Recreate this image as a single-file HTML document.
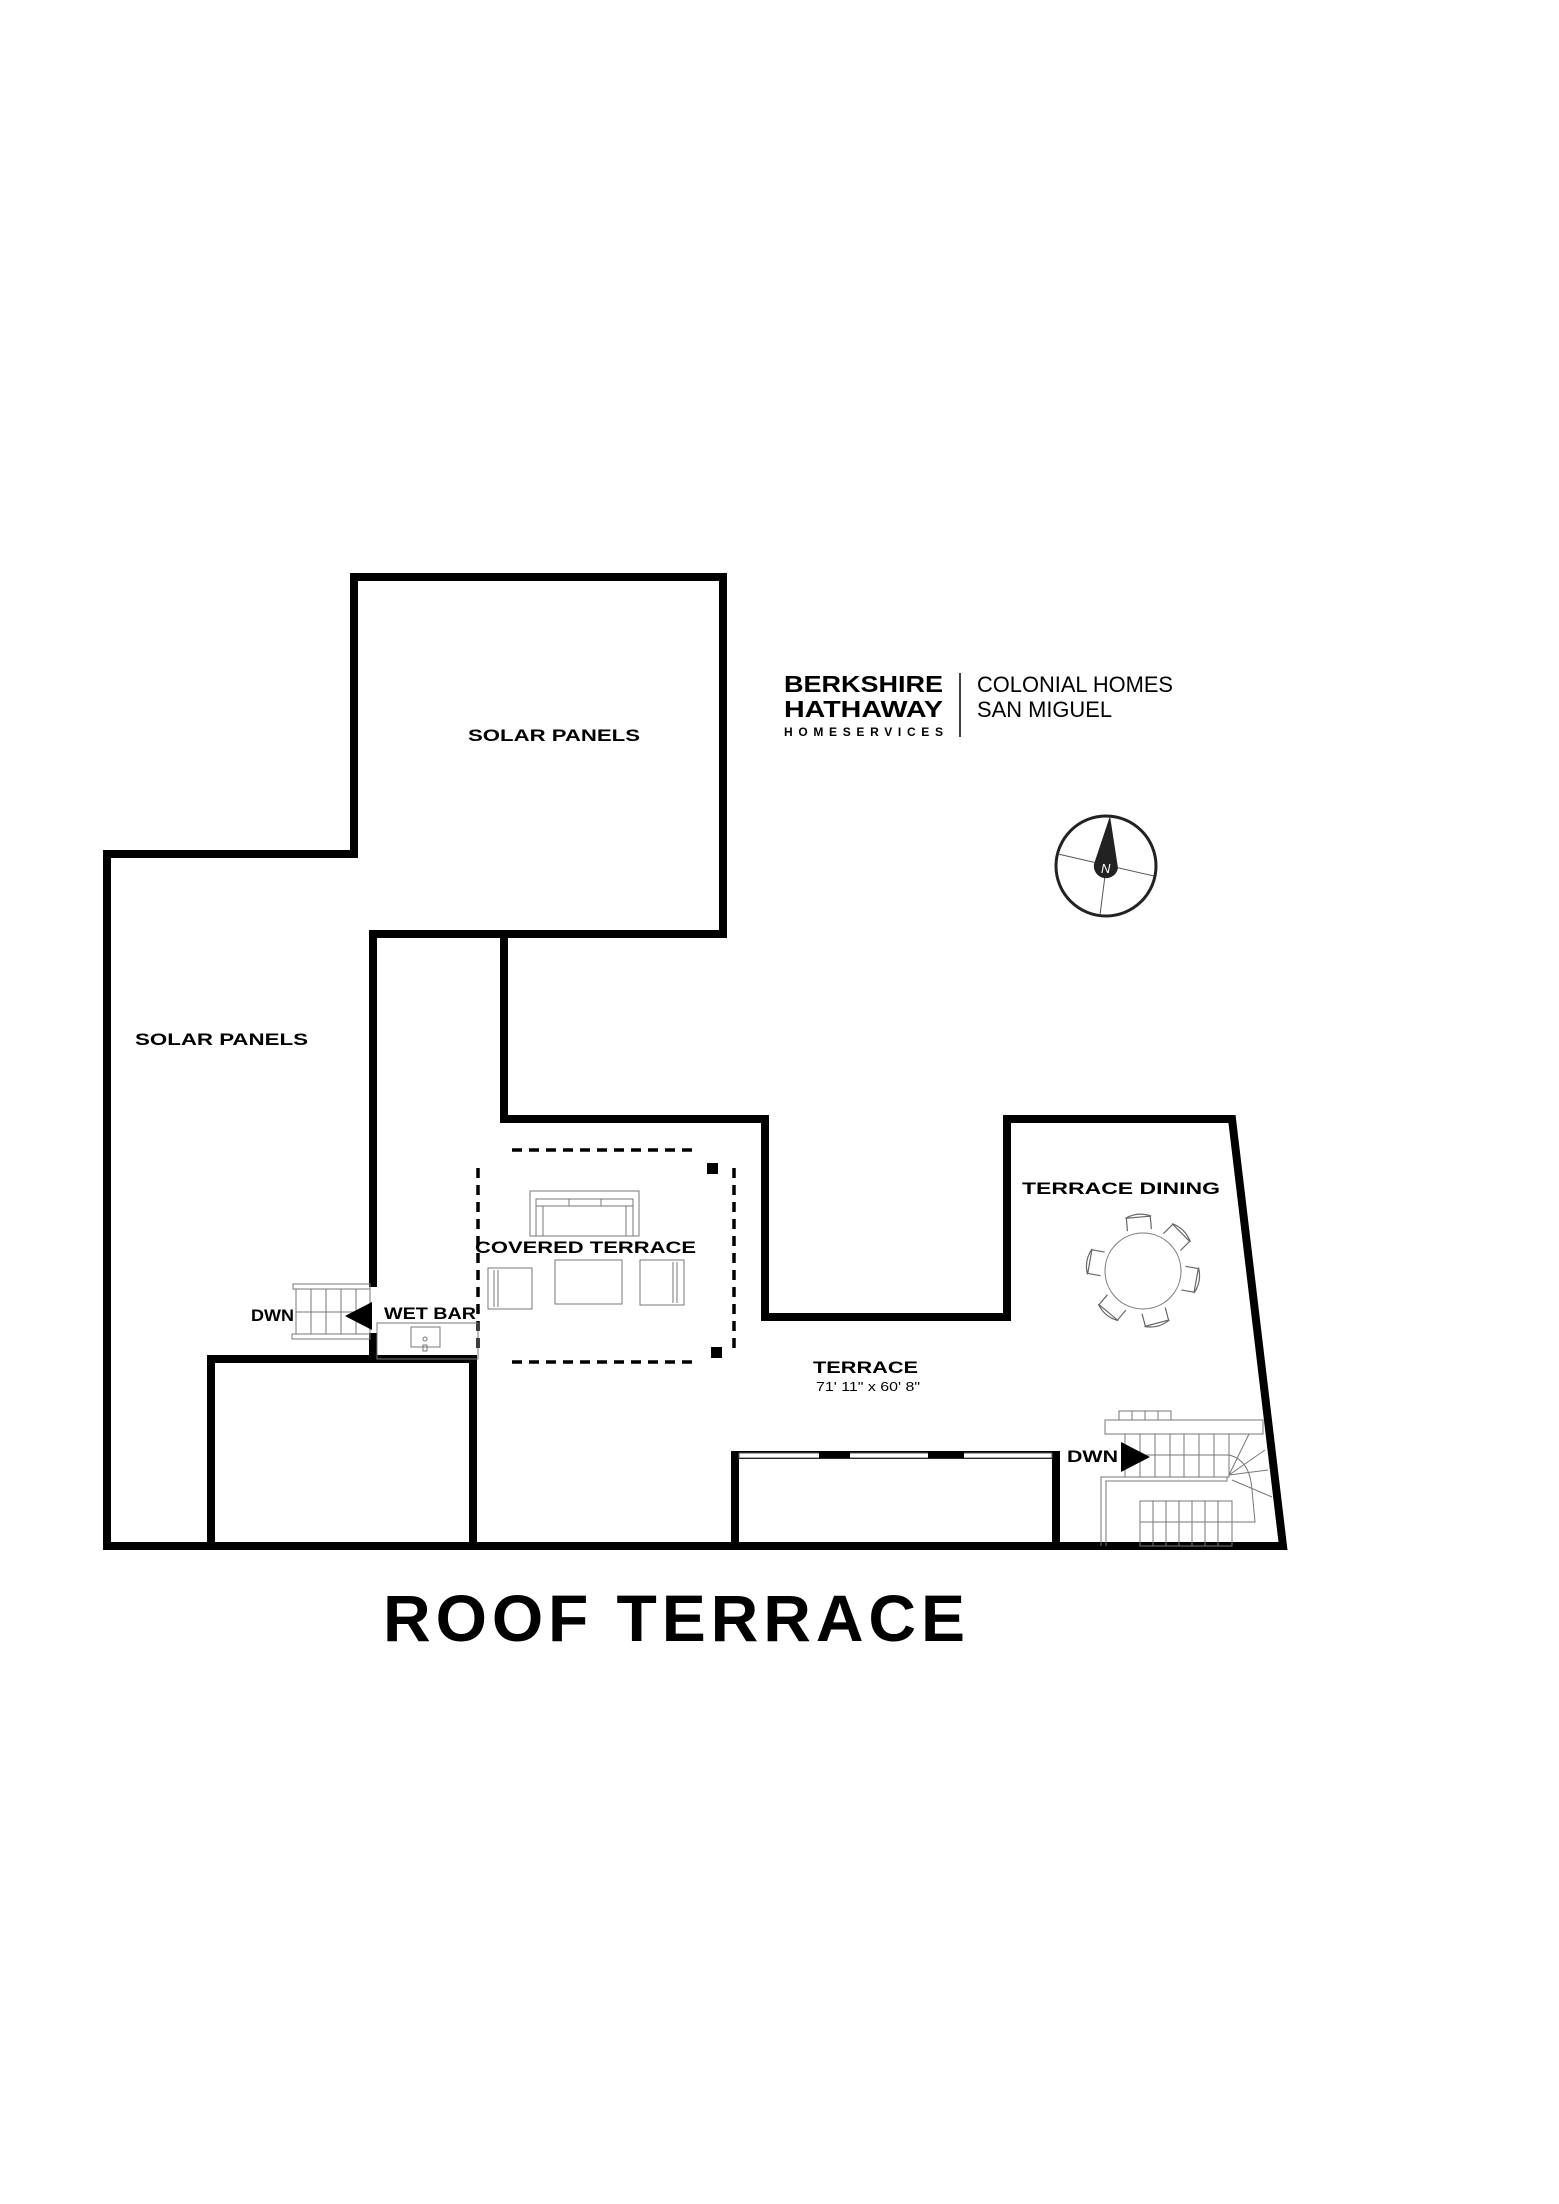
<!DOCTYPE html>
<html><head><meta charset="utf-8"><style>
html,body{margin:0;padding:0;background:#fff}
svg{display:block}
text{font-family:"Liberation Sans",Arial,sans-serif}
</style></head><body>
<svg width="1559" height="2204" viewBox="0 0 1559 2204" xmlns="http://www.w3.org/2000/svg">
<rect width="1559" height="2204" fill="#fff"/>
<g fill="none" stroke="#000" stroke-width="8" stroke-linejoin="miter">
  <path d="M107,1546 L107,854 L354,854 L354,577 L723,577 L723,934 L504,934 L504,1119 L765,1119 L765,1317 L1007,1317 L1007,1119 L1232,1119 L1283,1546 Z"/>
  <path d="M504,934 L373,934 L373,1287"/>
  <path d="M373,1333 L373,1359"/>
  <path d="M211,1546 L211,1359 L473,1359 L473,1546"/>
  <path d="M735,1546 L735,1455 L1056,1455 L1056,1546"/>
</g>
<rect x="739" y="1453" width="313" height="5" fill="#fff" stroke="#555" stroke-width="1"/>
<rect x="819" y="1452" width="31" height="6" fill="#000"/>
<rect x="928" y="1452" width="36" height="6" fill="#000"/>
<g stroke="#000" stroke-width="3.5" stroke-dasharray="10,7" fill="none">
  <line x1="512" y1="1150" x2="697" y2="1150"/>
  <line x1="512" y1="1362" x2="697" y2="1362"/>
  <line x1="478" y1="1168" x2="478" y2="1352"/>
  <line x1="734" y1="1168" x2="734" y2="1352"/>
</g>
<rect x="707" y="1163" width="11" height="11" fill="#000"/>
<rect x="711" y="1347" width="11" height="11" fill="#000"/>
<g fill="none" stroke="#777" stroke-width="1">
  <rect x="530" y="1191" width="109" height="45"/>
  <rect x="536" y="1199" width="97" height="37"/>
  <line x1="536" y1="1206" x2="633" y2="1206"/>
  <line x1="569" y1="1199" x2="569" y2="1206"/><line x1="601" y1="1199" x2="601" y2="1206"/>
  <line x1="543" y1="1206" x2="543" y2="1236"/><line x1="626" y1="1206" x2="626" y2="1236"/>
  <rect x="555" y="1260" width="67" height="44"/>
  <rect x="488" y="1268" width="44" height="41"/>
  <line x1="494" y1="1270" x2="494" y2="1307"/><line x1="498" y1="1270" x2="498" y2="1307"/>
  <rect x="640" y="1260" width="44" height="45"/>
  <line x1="677" y1="1262" x2="677" y2="1303"/><line x1="673" y1="1262" x2="673" y2="1303"/>
  <rect x="377" y="1323" width="101" height="36"/>
  <rect x="411" y="1327" width="29" height="20"/>
  <circle cx="425" cy="1339" r="2"/>
  <rect x="423" y="1345" width="4" height="6"/>
  <rect x="293" y="1284" width="77" height="5"/>
  <rect x="292" y="1334" width="78" height="5"/>
  <rect x="296" y="1289" width="74" height="45"/>
  <line x1="296" y1="1312" x2="370" y2="1312"/>
  <line x1="311" y1="1289" x2="311" y2="1334"/><line x1="326" y1="1289" x2="326" y2="1334"/>
  <line x1="341" y1="1289" x2="341" y2="1334"/><line x1="356" y1="1289" x2="356" y2="1334"/>
  <rect x="1105" y="1420" width="158" height="14"/>
  <rect x="1119" y="1411" width="13" height="9"/><rect x="1132" y="1411" width="13" height="9"/>
  <rect x="1145" y="1411" width="13" height="9"/><rect x="1158" y="1411" width="13" height="9"/>
  <rect x="1125" y="1434" width="104" height="43"/>
  <line x1="1125" y1="1455" x2="1229" y2="1455"/>
  <line x1="1140" y1="1434" x2="1140" y2="1477"/><line x1="1155" y1="1434" x2="1155" y2="1477"/>
  <line x1="1170" y1="1434" x2="1170" y2="1477"/><line x1="1184" y1="1434" x2="1184" y2="1477"/>
  <line x1="1199" y1="1434" x2="1199" y2="1477"/><line x1="1214" y1="1434" x2="1214" y2="1477"/>
  <path d="M1101,1546 L1101,1477 L1227,1477 L1227,1481 L1106,1481 L1106,1546"/>
  <rect x="1140" y="1501" width="92" height="45"/>
  <line x1="1140" y1="1522" x2="1232" y2="1522"/>
  <line x1="1153" y1="1501" x2="1153" y2="1546"/><line x1="1166" y1="1501" x2="1166" y2="1546"/>
  <line x1="1179" y1="1501" x2="1179" y2="1546"/><line x1="1192" y1="1501" x2="1192" y2="1546"/>
  <line x1="1205" y1="1501" x2="1205" y2="1546"/><line x1="1218" y1="1501" x2="1218" y2="1546"/>
  <path d="M1229,1475 L1249,1434 M1229,1475 L1265,1450 M1229,1475 L1268,1470 M1232,1480 L1272,1497 M1229,1455 Q1250,1460 1252,1490 L1255,1522 L1232,1522"/>
  <circle cx="1143" cy="1271" r="38"/>
</g>
<g fill="none" stroke="#666" stroke-width="1.2">
  <g transform="translate(1143,1271)">
    <g transform="rotate(-95)"><path d="M41,-12 L54,-12 L54,12 L41,12"/><path d="M54,-13 Q60,0 54,13"/></g>
    <g transform="rotate(-45)"><path d="M41,-12 L54,-12 L54,12 L41,12"/><path d="M54,-13 Q60,0 54,13"/></g>
    <g transform="rotate(10)"><path d="M41,-12 L54,-12 L54,12 L41,12"/><path d="M54,-13 Q60,0 54,13"/></g>
    <g transform="rotate(75)"><path d="M41,-12 L54,-12 L54,12 L41,12"/><path d="M54,-13 Q60,0 54,13"/></g>
    <g transform="rotate(130)"><path d="M41,-12 L54,-12 L54,12 L41,12"/><path d="M54,-13 Q60,0 54,13"/></g>
    <g transform="rotate(190)"><path d="M41,-12 L54,-12 L54,12 L41,12"/><path d="M54,-13 Q60,0 54,13"/></g>
  </g>
</g>
<polygon points="345,1316 372,1302 372,1330" fill="#000"/>
<polygon points="1121,1442 1150,1457 1121,1472" fill="#000"/>
<g font-weight="bold" fill="#000" font-size="17">
  <text x="468" y="741" textLength="172" lengthAdjust="spacingAndGlyphs">SOLAR PANELS</text>
  <text x="135" y="1045" textLength="173" lengthAdjust="spacingAndGlyphs">SOLAR PANELS</text>
  <text x="475" y="1253" textLength="221" lengthAdjust="spacingAndGlyphs">COVERED TERRACE</text>
  <text x="1022" y="1194" textLength="198" lengthAdjust="spacingAndGlyphs">TERRACE DINING</text>
  <text x="813" y="1373" textLength="105" lengthAdjust="spacingAndGlyphs">TERRACE</text>
  <text x="384" y="1319" textLength="92" lengthAdjust="spacingAndGlyphs">WET BAR</text>
  <text x="251" y="1321" textLength="43" lengthAdjust="spacingAndGlyphs">DWN</text>
  <text x="1067" y="1462" textLength="51" lengthAdjust="spacingAndGlyphs">DWN</text>
</g>
<text x="816" y="1391" font-size="13" textLength="104" lengthAdjust="spacingAndGlyphs">71' 11" x 60' 8"</text>
<text x="383" y="1641" font-size="66" font-weight="bold" textLength="582" lengthAdjust="spacing">ROOF TERRACE</text>
<text x="784" y="692" font-size="23" font-weight="bold" textLength="159" lengthAdjust="spacingAndGlyphs">BERKSHIRE</text>
<text x="784" y="717" font-size="23" font-weight="bold" textLength="159" lengthAdjust="spacingAndGlyphs">HATHAWAY</text>
<text x="784" y="736" font-size="12" font-weight="bold" textLength="159" lengthAdjust="spacing">HOMESERVICES</text>
<line x1="960" y1="673" x2="960" y2="737" stroke="#000" stroke-width="1.5"/>
<text x="977" y="692" font-size="22" textLength="196" lengthAdjust="spacingAndGlyphs">COLONIAL HOMES</text>
<text x="977" y="717" font-size="22" textLength="135" lengthAdjust="spacingAndGlyphs">SAN MIGUEL</text>
<g transform="translate(1106,866)">
  <circle r="50" fill="none" stroke="#222" stroke-width="3"/>
  <line x1="-48" y1="-12" x2="48" y2="10" stroke="#555" stroke-width="1"/>
  <line x1="0" y1="2" x2="-6" y2="49" stroke="#555" stroke-width="1"/>
  <path d="M4,-50 L-12,-2 A12,12 0 1 0 12,2 Z" fill="#222"/>
  <text x="-5" y="7" font-size="13" font-style="italic" fill="#fff">N</text>
</g>
</svg>
</body></html>
